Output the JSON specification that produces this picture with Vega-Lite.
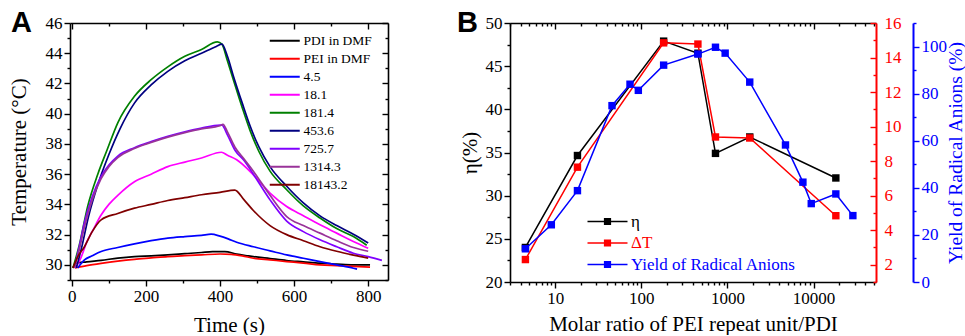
{
  "$schema": "https://vega.github.io/schema/vega-lite/v6.json",
  "padding": {"left": 8, "top": 9, "right": 0, "bottom": 0},
  "config": {
    "view": {"stroke": null},
    "font": "Liberation Serif",
    "axis": {
      "grid": false,
      "domainColor": "#000000",
      "domainWidth": 1.6,
      "tickColor": "#000000",
      "tickWidth": 1.4,
      "labelColor": "#000000",
      "labelFont": "Liberation Serif",
      "labelFontSize": 17,
      "titleFont": "Liberation Serif",
      "titleFontSize": 21,
      "titleFontWeight": "normal",
      "titleColor": "#000000",
      "labelFlush": false,
      "labelOverlap": false,
      "labelBound": false
    }
  },
  "datasets": {
    "curves": [
      {"sample": "PDI in DMF", "t": 3, "T": 29.8}, {"sample": "PDI in DMF", "t": 10, "T": 30.1}, {"sample": "PDI in DMF", "t": 40, "T": 30.2}, {"sample": "PDI in DMF", "t": 79, "T": 30.3}, {"sample": "PDI in DMF", "t": 124, "T": 30.45}, {"sample": "PDI in DMF", "t": 169, "T": 30.55}, {"sample": "PDI in DMF", "t": 214, "T": 30.6}, {"sample": "PDI in DMF", "t": 259, "T": 30.66}, {"sample": "PDI in DMF", "t": 305, "T": 30.74}, {"sample": "PDI in DMF", "t": 350, "T": 30.82}, {"sample": "PDI in DMF", "t": 380, "T": 30.88}, {"sample": "PDI in DMF", "t": 413, "T": 30.88}, {"sample": "PDI in DMF", "t": 445, "T": 30.72}, {"sample": "PDI in DMF", "t": 490, "T": 30.55}, {"sample": "PDI in DMF", "t": 535, "T": 30.42}, {"sample": "PDI in DMF", "t": 580, "T": 30.29}, {"sample": "PDI in DMF", "t": 625, "T": 30.2}, {"sample": "PDI in DMF", "t": 670, "T": 30.11}, {"sample": "PDI in DMF", "t": 715, "T": 30.05}, {"sample": "PDI in DMF", "t": 760, "T": 30.0}, {"sample": "PDI in DMF", "t": 805, "T": 30.0},
      {"sample": "PEI in DMF", "t": 8, "T": 29.8}, {"sample": "PEI in DMF", "t": 40, "T": 29.95}, {"sample": "PEI in DMF", "t": 79, "T": 30.1}, {"sample": "PEI in DMF", "t": 124, "T": 30.25}, {"sample": "PEI in DMF", "t": 169, "T": 30.37}, {"sample": "PEI in DMF", "t": 214, "T": 30.46}, {"sample": "PEI in DMF", "t": 259, "T": 30.55}, {"sample": "PEI in DMF", "t": 305, "T": 30.61}, {"sample": "PEI in DMF", "t": 350, "T": 30.66}, {"sample": "PEI in DMF", "t": 400, "T": 30.72}, {"sample": "PEI in DMF", "t": 430, "T": 30.7}, {"sample": "PEI in DMF", "t": 460, "T": 30.6}, {"sample": "PEI in DMF", "t": 490, "T": 30.44}, {"sample": "PEI in DMF", "t": 535, "T": 30.33}, {"sample": "PEI in DMF", "t": 580, "T": 30.22}, {"sample": "PEI in DMF", "t": 625, "T": 30.12}, {"sample": "PEI in DMF", "t": 670, "T": 30.0}, {"sample": "PEI in DMF", "t": 715, "T": 29.95}, {"sample": "PEI in DMF", "t": 760, "T": 29.9}, {"sample": "PEI in DMF", "t": 805, "T": 29.85},
      {"sample": "4.5", "t": 16, "T": 29.8}, {"sample": "4.5", "t": 34, "T": 30.33}, {"sample": "4.5", "t": 55, "T": 30.6}, {"sample": "4.5", "t": 79, "T": 30.88}, {"sample": "4.5", "t": 124, "T": 31.15}, {"sample": "4.5", "t": 169, "T": 31.39}, {"sample": "4.5", "t": 214, "T": 31.6}, {"sample": "4.5", "t": 259, "T": 31.77}, {"sample": "4.5", "t": 305, "T": 31.87}, {"sample": "4.5", "t": 350, "T": 31.95}, {"sample": "4.5", "t": 376, "T": 32.03}, {"sample": "4.5", "t": 400, "T": 31.9}, {"sample": "4.5", "t": 422, "T": 31.72}, {"sample": "4.5", "t": 445, "T": 31.5}, {"sample": "4.5", "t": 490, "T": 31.2}, {"sample": "4.5", "t": 535, "T": 30.93}, {"sample": "4.5", "t": 580, "T": 30.66}, {"sample": "4.5", "t": 625, "T": 30.44}, {"sample": "4.5", "t": 670, "T": 30.22}, {"sample": "4.5", "t": 715, "T": 30.0}, {"sample": "4.5", "t": 760, "T": 29.78}, {"sample": "4.5", "t": 770, "T": 29.72},
      {"sample": "18.1", "t": 10, "T": 29.8}, {"sample": "18.1", "t": 25, "T": 30.5}, {"sample": "18.1", "t": 40, "T": 31.5}, {"sample": "18.1", "t": 57, "T": 32.3}, {"sample": "18.1", "t": 79, "T": 33.3}, {"sample": "18.1", "t": 100, "T": 34.0}, {"sample": "18.1", "t": 124, "T": 34.6}, {"sample": "18.1", "t": 169, "T": 35.5}, {"sample": "18.1", "t": 214, "T": 36.0}, {"sample": "18.1", "t": 259, "T": 36.5}, {"sample": "18.1", "t": 305, "T": 36.8}, {"sample": "18.1", "t": 350, "T": 37.07}, {"sample": "18.1", "t": 404, "T": 37.45}, {"sample": "18.1", "t": 420, "T": 37.25}, {"sample": "18.1", "t": 445, "T": 36.95}, {"sample": "18.1", "t": 490, "T": 35.96}, {"sample": "18.1", "t": 535, "T": 34.75}, {"sample": "18.1", "t": 580, "T": 33.86}, {"sample": "18.1", "t": 625, "T": 33.25}, {"sample": "18.1", "t": 670, "T": 32.65}, {"sample": "18.1", "t": 715, "T": 32.1}, {"sample": "18.1", "t": 760, "T": 31.55}, {"sample": "18.1", "t": 800, "T": 31.1},
      {"sample": "181.4", "t": 3, "T": 29.8}, {"sample": "181.4", "t": 20, "T": 31.3}, {"sample": "181.4", "t": 43, "T": 33.9}, {"sample": "181.4", "t": 70, "T": 36.0}, {"sample": "181.4", "t": 95, "T": 37.6}, {"sample": "181.4", "t": 124, "T": 39.4}, {"sample": "181.4", "t": 169, "T": 41.15}, {"sample": "181.4", "t": 214, "T": 42.25}, {"sample": "181.4", "t": 259, "T": 43.1}, {"sample": "181.4", "t": 305, "T": 43.8}, {"sample": "181.4", "t": 350, "T": 44.25}, {"sample": "181.4", "t": 393, "T": 44.75}, {"sample": "181.4", "t": 405, "T": 44.6}, {"sample": "181.4", "t": 420, "T": 43.5}, {"sample": "181.4", "t": 436, "T": 42.25}, {"sample": "181.4", "t": 460, "T": 40.4}, {"sample": "181.4", "t": 481, "T": 38.9}, {"sample": "181.4", "t": 505, "T": 37.5}, {"sample": "181.4", "t": 535, "T": 36.2}, {"sample": "181.4", "t": 580, "T": 34.97}, {"sample": "181.4", "t": 625, "T": 33.9}, {"sample": "181.4", "t": 670, "T": 33.1}, {"sample": "181.4", "t": 715, "T": 32.4}, {"sample": "181.4", "t": 760, "T": 31.87}, {"sample": "181.4", "t": 796, "T": 31.3},
      {"sample": "453.6", "t": 12, "T": 29.8}, {"sample": "453.6", "t": 25, "T": 31.0}, {"sample": "453.6", "t": 45, "T": 33.2}, {"sample": "453.6", "t": 70, "T": 35.3}, {"sample": "453.6", "t": 100, "T": 37.3}, {"sample": "453.6", "t": 130, "T": 39.0}, {"sample": "453.6", "t": 169, "T": 40.7}, {"sample": "453.6", "t": 214, "T": 41.9}, {"sample": "453.6", "t": 259, "T": 42.8}, {"sample": "453.6", "t": 305, "T": 43.5}, {"sample": "453.6", "t": 350, "T": 44.0}, {"sample": "453.6", "t": 390, "T": 44.45}, {"sample": "453.6", "t": 405, "T": 44.6}, {"sample": "453.6", "t": 420, "T": 43.8}, {"sample": "453.6", "t": 436, "T": 42.5}, {"sample": "453.6", "t": 460, "T": 40.7}, {"sample": "453.6", "t": 481, "T": 39.2}, {"sample": "453.6", "t": 505, "T": 37.8}, {"sample": "453.6", "t": 535, "T": 36.5}, {"sample": "453.6", "t": 580, "T": 35.2}, {"sample": "453.6", "t": 625, "T": 34.1}, {"sample": "453.6", "t": 670, "T": 33.24}, {"sample": "453.6", "t": 715, "T": 32.6}, {"sample": "453.6", "t": 760, "T": 32.03}, {"sample": "453.6", "t": 800, "T": 31.45},
      {"sample": "725.7", "t": 7, "T": 29.8}, {"sample": "725.7", "t": 20, "T": 31.2}, {"sample": "725.7", "t": 34, "T": 32.8}, {"sample": "725.7", "t": 55, "T": 34.5}, {"sample": "725.7", "t": 79, "T": 35.85}, {"sample": "725.7", "t": 100, "T": 36.6}, {"sample": "725.7", "t": 124, "T": 37.2}, {"sample": "725.7", "t": 169, "T": 37.75}, {"sample": "725.7", "t": 214, "T": 38.15}, {"sample": "725.7", "t": 259, "T": 38.5}, {"sample": "725.7", "t": 305, "T": 38.8}, {"sample": "725.7", "t": 350, "T": 39.05}, {"sample": "725.7", "t": 400, "T": 39.25}, {"sample": "725.7", "t": 405, "T": 39.25}, {"sample": "725.7", "t": 420, "T": 38.6}, {"sample": "725.7", "t": 440, "T": 37.6}, {"sample": "725.7", "t": 465, "T": 36.9}, {"sample": "725.7", "t": 490, "T": 36.0}, {"sample": "725.7", "t": 535, "T": 34.3}, {"sample": "725.7", "t": 580, "T": 32.9}, {"sample": "725.7", "t": 625, "T": 32.2}, {"sample": "725.7", "t": 670, "T": 31.66}, {"sample": "725.7", "t": 715, "T": 31.2}, {"sample": "725.7", "t": 760, "T": 30.77}, {"sample": "725.7", "t": 800, "T": 30.55}, {"sample": "725.7", "t": 837, "T": 30.3},
      {"sample": "1314.3", "t": 7, "T": 29.8}, {"sample": "1314.3", "t": 20, "T": 31.0}, {"sample": "1314.3", "t": 34, "T": 32.5}, {"sample": "1314.3", "t": 55, "T": 34.3}, {"sample": "1314.3", "t": 79, "T": 35.7}, {"sample": "1314.3", "t": 100, "T": 36.5}, {"sample": "1314.3", "t": 124, "T": 37.1}, {"sample": "1314.3", "t": 169, "T": 37.7}, {"sample": "1314.3", "t": 214, "T": 38.1}, {"sample": "1314.3", "t": 259, "T": 38.45}, {"sample": "1314.3", "t": 305, "T": 38.75}, {"sample": "1314.3", "t": 350, "T": 39.0}, {"sample": "1314.3", "t": 400, "T": 39.2}, {"sample": "1314.3", "t": 408, "T": 39.3}, {"sample": "1314.3", "t": 420, "T": 38.8}, {"sample": "1314.3", "t": 440, "T": 37.8}, {"sample": "1314.3", "t": 465, "T": 37.0}, {"sample": "1314.3", "t": 490, "T": 36.2}, {"sample": "1314.3", "t": 535, "T": 34.6}, {"sample": "1314.3", "t": 580, "T": 33.2}, {"sample": "1314.3", "t": 625, "T": 32.6}, {"sample": "1314.3", "t": 670, "T": 32.1}, {"sample": "1314.3", "t": 715, "T": 31.6}, {"sample": "1314.3", "t": 760, "T": 31.15}, {"sample": "1314.3", "t": 800, "T": 30.9},
      {"sample": "18143.2", "t": 3, "T": 29.8}, {"sample": "18143.2", "t": 15, "T": 30.5}, {"sample": "18143.2", "t": 34, "T": 31.2}, {"sample": "18143.2", "t": 55, "T": 32.2}, {"sample": "18143.2", "t": 79, "T": 32.98}, {"sample": "18143.2", "t": 124, "T": 33.4}, {"sample": "18143.2", "t": 169, "T": 33.75}, {"sample": "18143.2", "t": 214, "T": 34.0}, {"sample": "18143.2", "t": 259, "T": 34.26}, {"sample": "18143.2", "t": 305, "T": 34.45}, {"sample": "18143.2", "t": 350, "T": 34.64}, {"sample": "18143.2", "t": 400, "T": 34.8}, {"sample": "18143.2", "t": 440, "T": 34.95}, {"sample": "18143.2", "t": 465, "T": 34.3}, {"sample": "18143.2", "t": 490, "T": 33.6}, {"sample": "18143.2", "t": 535, "T": 32.6}, {"sample": "18143.2", "t": 580, "T": 32.0}, {"sample": "18143.2", "t": 625, "T": 31.6}, {"sample": "18143.2", "t": 670, "T": 31.2}, {"sample": "18143.2", "t": 715, "T": 30.9}, {"sample": "18143.2", "t": 760, "T": 30.65}, {"sample": "18143.2", "t": 800, "T": 30.45}
    ],
    "ratio": [
      {"series": "η", "ratio": 4.5, "value": 24.0}, {"series": "η", "ratio": 18.1, "value": 34.65}, {"series": "η", "ratio": 181.4, "value": 47.9}, {"series": "η", "ratio": 453.6, "value": 46.5}, {"series": "η", "ratio": 725.7, "value": 34.9}, {"series": "η", "ratio": 1814.3, "value": 36.8}, {"series": "η", "ratio": 18143.2, "value": 32.05},
      {"series": "ΔT", "ratio": 4.5, "value": 2.3}, {"series": "ΔT", "ratio": 18.1, "value": 7.65}, {"series": "ΔT", "ratio": 181.4, "value": 14.85}, {"series": "ΔT", "ratio": 453.6, "value": 14.78}, {"series": "ΔT", "ratio": 725.7, "value": 9.4}, {"series": "ΔT", "ratio": 1814.3, "value": 9.34}, {"series": "ΔT", "ratio": 18143.2, "value": 4.84},
      {"series": "Yield of Radical Anions", "ratio": 4.5, "value": 14.1}, {"series": "Yield of Radical Anions", "ratio": 9.0, "value": 24.3}, {"series": "Yield of Radical Anions", "ratio": 18.1, "value": 38.8}, {"series": "Yield of Radical Anions", "ratio": 45.6, "value": 74.9}, {"series": "Yield of Radical Anions", "ratio": 73.8, "value": 84.0}, {"series": "Yield of Radical Anions", "ratio": 92.2, "value": 81.4}, {"series": "Yield of Radical Anions", "ratio": 181.4, "value": 92.1}, {"series": "Yield of Radical Anions", "ratio": 453.6, "value": 96.8}, {"series": "Yield of Radical Anions", "ratio": 725.7, "value": 99.7}, {"series": "Yield of Radical Anions", "ratio": 940, "value": 97.2}, {"series": "Yield of Radical Anions", "ratio": 1814.3, "value": 84.9}, {"series": "Yield of Radical Anions", "ratio": 4720, "value": 58.2}, {"series": "Yield of Radical Anions", "ratio": 7520, "value": 42.4}, {"series": "Yield of Radical Anions", "ratio": 9400, "value": 33.3}, {"series": "Yield of Radical Anions", "ratio": 18143.2, "value": 37.4}, {"series": "Yield of Radical Anions", "ratio": 28600, "value": 28.2}
    ]
  },
  "resolve": {"scale": {"color": "independent"}, "legend": {"color": "independent"}},
  "spacing": 68,
  "hconcat": [
    {
      "width": 318,
      "height": 257,
      "title": {"text": "A", "anchor": "start", "frame": "bounds", "font": "Liberation Sans", "fontWeight": "bold", "fontSize": 29, "baseline": "alphabetic", "offset": -20, "dx": 3, "dy": 27, "color": "#000000"},
      "data": {"name": "curves"},
      "layer": [
        {
          "mark": {"type": "line", "strokeWidth": 1.7, "interpolate": "monotone"},
          "encoding": {
            "x": {"field": "t", "type": "quantitative", "scale": {"domain": [-5, 853.5], "nice": false, "zero": false},
              "axis": {"orient": "bottom", "title": "Time (s)", "values": [0, 100, 200, 300, 400, 500, 600, 700, 800],
                "labelExpr": "datum.value % 200 === 0 ? datum.label : ''",
                "tickSize": {"condition": {"test": "datum.value % 200 === 0", "value": 6}, "value": 3},
                "labelFont": "Liberation Serif", "labelFontSize": 17,
                "labelPadding": 2, "titlePadding": 10}},
            "y": {"field": "T", "type": "quantitative", "scale": {"domain": [29, 46], "nice": false, "zero": false},
              "axis": {"orient": "left", "title": "Temperature (°C)", "values": [29, 30, 31, 32, 33, 34, 35, 36, 37, 38, 39, 40, 41, 42, 43, 44, 45, 46],
                "labelExpr": "datum.value % 2 === 0 ? datum.label : ''",
                "tickSize": {"condition": {"test": "datum.value % 2 === 0", "value": 6}, "value": 3},
                "labelFont": "Liberation Serif", "labelFontSize": 17,
                "labelPadding": 2, "titlePadding": 16}},
            "color": {"field": "sample", "type": "nominal",
              "scale": {"domain": ["PDI in DMF", "PEI in DMF", "4.5", "18.1", "181.4", "453.6", "725.7", "1314.3", "18143.2"],
                "range": ["#000000", "#ff0000", "#0000ff", "#ff00ff", "#008000", "#000080", "#8000ff", "#993399", "#800000"]},
              "legend": {"title": null, "orient": "none", "legendX": 208, "legendY": 11, "padding": 0,
                "symbolType": "M-3,0H3", "symbolSize": 100, "symbolStrokeWidth": 2,
                "labelFont": "Liberation Serif", "labelFontSize": 13.5, "labelColor": "#000000", "labelOffset": 12, "rowPadding": 3}}
          }
        },
        {
          "mark": {"type": "line", "opacity": 0},
          "encoding": {
            "x": {"field": "t", "type": "quantitative", "scale": {"domain": [-5, 853.5], "nice": false, "zero": false},
              "axis": {"orient": "top", "title": null, "labels": false, "values": [0, 100, 200, 300, 400, 500, 600, 700, 800],
                "tickSize": {"condition": {"test": "datum.value % 200 === 0", "value": -6}, "value": -3}}},
            "y": {"field": "T", "type": "quantitative", "scale": {"domain": [29, 46], "nice": false, "zero": false},
              "axis": {"orient": "right", "title": null, "labels": false, "values": [29, 30, 31, 32, 33, 34, 35, 36, 37, 38, 39, 40, 41, 42, 43, 44, 45, 46],
                "tickSize": {"condition": {"test": "datum.value % 2 === 0", "value": -6}, "value": -3}}},
            "detail": {"field": "sample"}
          }
        }
      ],
      "resolve": {"axis": {"x": "independent", "y": "independent"}}
    },
    {
      "width": 366,
      "height": 259,
      "title": {"text": "B", "anchor": "start", "frame": "bounds", "font": "Liberation Sans", "fontWeight": "bold", "fontSize": 29, "baseline": "alphabetic", "offset": -20, "dx": -2, "dy": 27, "color": "#000000"},
      "data": {"name": "ratio"},
      "layer": [
        {
          "transform": [{"filter": "datum.series === 'η'"}],
          "encoding": {
            "x": {"field": "ratio", "type": "quantitative", "scale": {"type": "log", "domain": [2.98, 53100], "nice": false},
              "axis": {"orient": "bottom", "title": "Molar ratio of PEI repeat unit/PDI",
                "values": [3, 4, 5, 6, 7, 8, 9, 10, 20, 30, 40, 50, 60, 70, 80, 90, 100, 200, 300, 400, 500, 600, 700, 800, 900, 1000, 2000, 3000, 4000, 5000, 6000, 7000, 8000, 9000, 10000, 20000, 30000, 40000, 50000],
                "labelExpr": "indexof([10, 100, 1000, 10000], datum.value) >= 0 ? format(datum.value, 'd') : ''",
                "tickSize": {"condition": {"test": "indexof([10, 100, 1000, 10000], datum.value) >= 0", "value": 6}, "value": 3},
                "labelFont": "Liberation Serif", "labelFontSize": 17,
                "labelPadding": 2, "titlePadding": 7}},
            "y": {"field": "value", "type": "quantitative", "scale": {"domain": [20, 50], "nice": false, "zero": false},
              "axis": {"orient": "left", "title": "η(%)", "values": [20, 22.5, 25, 27.5, 30, 32.5, 35, 37.5, 40, 42.5, 45, 47.5, 50],
                "labelExpr": "datum.value % 5 === 0 ? datum.label : ''",
                "tickSize": {"condition": {"test": "datum.value % 5 === 0", "value": 6}, "value": 3},
                "labelFont": "Liberation Serif", "labelFontSize": 17,
                "labelPadding": 2, "titlePadding": 5}}
          },
          "layer": [
            {"mark": {"type": "line", "color": "#000000", "strokeWidth": 1.5}},
            {"mark": {"type": "point", "shape": "square", "filled": true, "size": 55, "opacity": 1},
              "encoding": {"color": {"field": "series", "type": "nominal",
                "scale": {"domain": ["η", "ΔT", "Yield of Radical Anions"], "range": ["#000000", "#ff0000", "#0000ff"]},
                "legend": {"title": null, "orient": "none", "legendX": 89, "legendY": 190, "padding": 0,
                  "symbolType": "M-5,-0.2H5V0.2H-5Z M-0.9,-0.9H0.9V0.9H-0.9Z", "symbolSize": 64, "symbolStrokeWidth": 0,
                  "labelFont": "Liberation Serif", "labelFontSize": 17, "labelOffset": 15, "rowPadding": 3.5, "labelLimit": 400,
                  "labelExpr": "datum.value === 'ΔT' ? '\u00a0ΔT' : datum.label",
                  "labelColor": {"expr": "datum.value === 'η' ? '#000000' : datum.value === 'ΔT' ? '#ff0000' : '#0000ff'"}}}}}
          ]
        },
        {
          "transform": [{"filter": "datum.series === 'ΔT'"}],
          "encoding": {
            "x": {"field": "ratio", "type": "quantitative", "scale": {"type": "log", "domain": [2.98, 53100], "nice": false}, "axis": null},
            "y": {"field": "value", "type": "quantitative", "scale": {"domain": [1, 16], "nice": false, "zero": false},
              "axis": {"orient": "right", "title": null, "values": [1, 2, 3, 4, 5, 6, 7, 8, 9, 10, 11, 12, 13, 14, 15, 16],
                "labelExpr": "datum.value % 2 === 0 ? datum.label : ''",
                "tickSize": {"condition": {"test": "datum.value % 2 === 0", "value": -6}, "value": -3},
                "labelFont": "Liberation Serif", "labelFontSize": 17,
                "labelPadding": 14, "domainColor": "#ff0000", "tickColor": "#ff0000", "labelColor": "#ff0000", "domainWidth": 2}}
          },
          "layer": [
            {"mark": {"type": "line", "color": "#ff0000", "strokeWidth": 1.5}},
            {"mark": {"type": "point", "shape": "square", "filled": true, "size": 55, "opacity": 1},
              "encoding": {"color": {"field": "series", "type": "nominal",
                "scale": {"domain": ["η", "ΔT", "Yield of Radical Anions"], "range": ["#000000", "#ff0000", "#0000ff"]},
                "legend": {"title": null, "orient": "none", "legendX": 89, "legendY": 190, "padding": 0,
                  "symbolType": "M-5,-0.2H5V0.2H-5Z M-0.9,-0.9H0.9V0.9H-0.9Z", "symbolSize": 64, "symbolStrokeWidth": 0,
                  "labelFont": "Liberation Serif", "labelFontSize": 17, "labelOffset": 15, "rowPadding": 3.5, "labelLimit": 400,
                  "labelExpr": "datum.value === 'ΔT' ? '\u00a0ΔT' : datum.label",
                  "labelColor": {"expr": "datum.value === 'η' ? '#000000' : datum.value === 'ΔT' ? '#ff0000' : '#0000ff'"}}}}}
          ]
        },
        {
          "transform": [{"filter": "datum.series === 'Yield of Radical Anions'"}],
          "encoding": {
            "x": {"field": "ratio", "type": "quantitative", "scale": {"type": "log", "domain": [2.98, 53100], "nice": false}, "axis": null},
            "y": {"field": "value", "type": "quantitative", "scale": {"domain": [0, 110], "nice": false, "zero": false},
              "axis": {"orient": "right", "offset": 37, "title": "Yield of Radical Anions (%)", "values": [0, 10, 20, 30, 40, 50, 60, 70, 80, 90, 100, 110],
                "labelExpr": "datum.value % 20 === 0 && datum.value <= 100 ? datum.label : ''",
                "tickSize": {"condition": {"test": "datum.value % 20 === 0", "value": 6}, "value": 3},
                "labelFont": "Liberation Serif", "labelFontSize": 17,
                "labelPadding": 2, "titlePadding": 0, "titleAngle": 270, "titleBaseline": "top", "titleFontSize": 19.5,
                "domainColor": "#0000ff", "tickColor": "#0000ff", "labelColor": "#0000ff", "titleColor": "#0000ff", "domainWidth": 2}}
          },
          "layer": [
            {"mark": {"type": "line", "color": "#0000ff", "strokeWidth": 1.5}},
            {"mark": {"type": "point", "shape": "square", "filled": true, "size": 55, "opacity": 1},
              "encoding": {"color": {"field": "series", "type": "nominal",
                "scale": {"domain": ["η", "ΔT", "Yield of Radical Anions"], "range": ["#000000", "#ff0000", "#0000ff"]},
                "legend": {"title": null, "orient": "none", "legendX": 89, "legendY": 190, "padding": 0,
                  "symbolType": "M-5,-0.2H5V0.2H-5Z M-0.9,-0.9H0.9V0.9H-0.9Z", "symbolSize": 64, "symbolStrokeWidth": 0,
                  "labelFont": "Liberation Serif", "labelFontSize": 17, "labelOffset": 15, "rowPadding": 3.5, "labelLimit": 400,
                  "labelExpr": "datum.value === 'ΔT' ? '\u00a0ΔT' : datum.label",
                  "labelColor": {"expr": "datum.value === 'η' ? '#000000' : datum.value === 'ΔT' ? '#ff0000' : '#0000ff'"}}}}}
          ]
        },
        {
          "transform": [{"filter": "datum.series === 'η'"}],
          "mark": {"type": "point", "opacity": 0},
          "encoding": {
            "x": {"field": "ratio", "type": "quantitative", "scale": {"type": "log", "domain": [2.98, 53100], "nice": false},
              "axis": {"orient": "top", "title": null, "labels": false,
                "values": [3, 4, 5, 6, 7, 8, 9, 10, 20, 30, 40, 50, 60, 70, 80, 90, 100, 200, 300, 400, 500, 600, 700, 800, 900, 1000, 2000, 3000, 4000, 5000, 6000, 7000, 8000, 9000, 10000, 20000, 30000, 40000, 50000],
                "tickSize": {"condition": {"test": "indexof([10, 100, 1000, 10000], datum.value) >= 0", "value": -6}, "value": -3}}},
            "y": {"field": "value", "type": "quantitative", "scale": {"domain": [20, 50], "nice": false, "zero": false}, "axis": null}
          }
        }
      ],
      "resolve": {"scale": {"y": "independent"}, "axis": {"x": "independent", "y": "independent"}}
    }
  ]
}
